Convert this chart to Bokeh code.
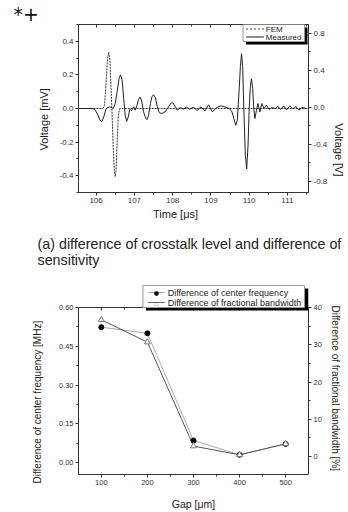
import math
from bokeh.plotting import figure
from bokeh.models import (Range1d, LinearAxis, FixedTicker, PrintfTickFormatter,
                          Label, BoxAnnotation, Arrow, Title, Span)
from bokeh.layouts import column
from bokeh.embed import file_html
from bokeh.resources import INLINE

FONT = "Liberation Sans"
INK = "#333333"
TXT = "#222222"

# ---------------- data: chart (a) waveforms ----------------
fem_t = [105.54, 106.18, 106.22, 106.26, 106.30, 106.33, 106.36, 106.39, 106.42,
         106.45, 106.48, 106.50, 106.52, 106.55, 106.58, 106.62, 111.55]
fem_v = [0.0, 0.0, 0.02, 0.15, 0.30, 0.335, 0.29, 0.12, -0.05,
         -0.25, -0.38, -0.405, -0.37, -0.20, -0.04, 0.0, 0.0]

meas_t = [105.54, 105.92, 105.98, 106.05, 106.10, 106.15, 106.20, 106.26, 106.35, 106.45,
          106.50, 106.55, 106.60, 106.64, 106.68, 106.72, 106.76, 106.80, 106.84, 106.88,
          106.93, 106.98, 107.02, 107.07, 107.11, 107.15, 107.19, 107.24, 107.29, 107.33,
          107.37, 107.42, 107.46, 107.50, 107.55, 107.60, 107.65, 107.72, 107.80, 107.88,
          107.95, 108.00, 108.06, 108.12, 108.20, 108.28, 108.36, 108.45, 108.54, 108.64,
          108.74, 108.84, 108.94, 109.04, 109.14, 109.26, 109.38, 109.48, 109.55, 109.60,
          109.65, 109.69, 109.73, 109.77, 109.80, 109.83, 109.86, 109.90, 109.935, 109.97,
          110.00, 110.03, 110.06, 110.09, 110.12, 110.15, 110.19, 110.23, 110.28, 110.33,
          110.39, 110.45, 110.52, 110.60, 110.68, 110.75, 110.82, 110.90, 110.98, 111.06,
          111.14, 111.22, 111.30, 111.38, 111.5]
meas_v = [0.0, 0.0, -0.01, -0.04, -0.07, -0.078, -0.05, 0.0, 0.01, 0.0,
          0.03, 0.10, 0.18, 0.20, 0.17, 0.06, -0.04, -0.076, -0.05, -0.005,
          -0.012, 0.01, -0.01, 0.02, 0.055, 0.068, 0.045, -0.02, -0.055, -0.066,
          -0.04, 0.03, 0.07, 0.082, 0.065, 0.01, -0.025, -0.03, -0.02, 0.005,
          0.03, 0.035, 0.015, -0.01, 0.006, -0.004, 0.008, -0.004, 0.008, -0.012,
          0.01, -0.015, 0.022, -0.02, 0.004, 0.016, 0.008, 0.0, -0.02, -0.06,
          -0.10, -0.07, 0.08, 0.25, 0.326, 0.25, 0.0, -0.28, -0.36, -0.22,
          0.0, 0.13, 0.177, 0.12, 0.0, -0.06, -0.01, 0.03, -0.02, 0.03,
          0.0, 0.02, -0.005, 0.005, 0.0, 0.012, -0.006, 0.015, -0.008, 0.015,
          -0.002, 0.012, -0.01, 0.006, 0.0]

x1_ticks = [106, 107, 108, 109, 110, 111]
x1_minor = [105.5, 106.5, 107.5, 108.5, 109.5, 110.5, 111.5]
y1_ticks = [-0.4, -0.2, 0.0, 0.2, 0.4]
y1_minor = [-0.5, -0.3, -0.1, 0.1, 0.3, 0.5]
y1r_ticks = [-0.8, -0.4, 0.0, 0.4, 0.8]
y1r_minor = [-0.6, -0.2, 0.2, 0.6]

# ---------------- data: chart (b) ----------------
gap = [100, 200, 300, 400, 500]
center_freq = [0.524, 0.50, 0.085, 0.030, 0.072]
frac_bw = [36.7, 30.7, 2.8, 0.45, 3.4]

x2_ticks = [100, 200, 300, 400, 500]
x2_minor = [50, 150, 250, 350, 450, 550]
y2_ticks = [0.0, 0.15, 0.30, 0.45, 0.60]
y2_minor = [0.075, 0.225, 0.375, 0.525]
y2r_ticks = [0, 10, 20, 30, 40]
y2r_minor = [-5, 5, 15, 25, 35]

# ---------------- layout (page pixels, body margin is 0) ----------------
W = 348
H1 = 282
H2 = 512 - H1
FL, FR = 78, 310                      # common frame left/right
T1, B1 = 24, 192                      # frame (a)
T2, B2 = H1, 474                      # frame (b), extends above the 0.60 line
X1R = (105.54, 111.55)
Y1R = (-0.5, 0.5)
Y1RR = (-0.919, 0.897)
X2R = (50.5, 549.5)
# chart (b) axis anchors: 0.60 drawn at 307 px, 0.00 at 462 px; right 40 at 307, 0 at 456
Y2_TOP, Y2R_TOP = 0.60, 40
_s_l = 0.60 / (462 - 307)
_s_r = 40.0 / (456 - 307)
Y2R = (-(B2 - 462) * _s_l, 0.60 + (307 - T2) * _s_l)
Y2RR = (-(B2 - 456) * _s_r, 40 + (307 - T2) * _s_r)


def mapper(T, B, xr, yr):
    def dx(px):
        return xr[0] + (px - FL) / (FR - FL) * (xr[1] - xr[0])

    def dy(py):
        return yr[0] + (B - py) / (B - T) * (yr[1] - yr[0])
    return dx, dy


d1x, d1y = mapper(T1, B1, X1R, Y1R)
d2x, d2y = mapper(T2, B2, X2R, Y2R)


def style_axis(ax, fs, fmt=None, labels=True, inward=False, ticks=None, minor=None):
    ax.axis_line_color = INK
    ax.major_tick_line_color = INK
    ax.minor_tick_line_color = INK
    if inward:
        ax.major_tick_in, ax.major_tick_out = 3, 0
        ax.minor_tick_in, ax.minor_tick_out = 2, 0
    else:
        ax.major_tick_in, ax.major_tick_out = 0, 3
        ax.minor_tick_in, ax.minor_tick_out = 0, 2
    ax.ticker = FixedTicker(ticks=ticks, minor_ticks=minor)
    if fmt:
        ax.formatter = PrintfTickFormatter(format=fmt)
    ax.major_label_text_font = FONT
    ax.major_label_standoff = 2
    ax.axis_label_text_font = FONT
    ax.axis_label_text_font_style = "normal"
    ax.axis_label_text_color = TXT
    if labels:
        ax.major_label_text_font_size = fs
        ax.major_label_text_color = INK
    else:
        ax.major_label_text_font_size = "0px"
        ax.major_label_text_color = None
        ax.major_label_standoff = 0


def title(text, size, align, offset, standoff, font=FONT):
    return Title(text=text, align=align, offset=offset, standoff=standoff,
                 text_font=font, text_font_size=size, text_font_style="normal",
                 text_color=TXT)


def lab(p, x, y, text, size, align="left", color=TXT, font=FONT):
    p.add_layout(Label(x=x, y=y, text=text, text_font=font, text_font_size=size,
                       text_color=color, text_align=align, text_baseline="middle"))


def box(p, l, r, t, b, fill, line):
    p.add_layout(BoxAnnotation(left=l, right=r, top=t, bottom=b, fill_color=fill,
                               fill_alpha=1.0, line_color=line if line else "white",
                               line_width=1, line_alpha=1.0 if line else 0.0))


def seg(p, x0, y0, x1, y1, color, width=1.0, dash="solid"):
    p.add_layout(Arrow(end=None, x_start=x0, y_start=y0, x_end=x1, y_end=y1,
                       line_color=color, line_width=width, line_dash=dash))


def base_fig(h, xr, yr, top, bottom):
    f = figure(width=W, height=h, x_range=Range1d(*xr), y_range=Range1d(*yr),
               output_backend="svg", toolbar_location=None,
               min_border_left=FL, min_border_right=W - FR,
               min_border_top=top, min_border_bottom=bottom)
    f.grid.visible = False
    f.background_fill_color = "white"
    f.border_fill_color = "white"
    return f


# ================= figure (a) =================
p1 = base_fig(H1, X1R, Y1R, 0, H1 - B1)
p1.outline_line_color = INK
p1.extra_y_ranges = {"r": Range1d(*Y1RR)}
p1.title.text = "*+"
p1.title.text_font = "DejaVu Sans"
p1.title.text_font_size = "18.9px"
p1.title.text_font_style = "normal"
p1.title.text_color = "#111111"
p1.title.align = "left"
p1.title.offset = 13 - FL
p1.title.standoff = 0

style_axis(p1.xaxis[0], "8px", "%d", ticks=x1_ticks, minor=x1_minor)
style_axis(p1.yaxis[0], "8px", "%.1f", ticks=y1_ticks, minor=y1_minor)
top1 = LinearAxis()
style_axis(top1, "8px", labels=False, inward=True, ticks=x1_ticks, minor=x1_minor)
p1.add_layout(top1, "above")
right1 = LinearAxis(y_range_name="r")
style_axis(right1, "8px", "%.1f", ticks=y1r_ticks, minor=y1r_minor)
p1.add_layout(right1, "right")
p1.add_layout(title("Voltage [mV]", "11px", "left", B1 - 150, 14), "left")
p1.add_layout(title("Voltage [V]", "11px", "right", 16, 4), "right")
p1.add_layout(title("Time [\u03bcs]", "11px", "left", 152.5 - FL, 0), "below")
p1.add_layout(title("(a) difference of crosstalk level and difference of\nsensitivity",
                    "14.3px", "left", 37 - FL, 29), "below")

p1.line(fem_t, fem_v, line_color="#333333", line_width=1.0, line_dash="2 1")
p1.line(meas_t, meas_v, line_color="#222222", line_width=1.0)

# legend (a) with drop shadow
box(p1, d1x(247), d1x(309), d1y(27), d1y(44), "black", None)
box(p1, d1x(244), d1x(306), d1y(24), d1y(41), "white", "#999999")
seg(p1, d1x(247), d1y(28.5), d1x(265), d1y(28.5), "#444444", 1.0, "2 2")
lab(p1, d1x(267), d1y(28.5), "FEM", "8px")
seg(p1, d1x(247), d1y(36.5), d1x(265), d1y(36.5), "#666666", 1.5)
lab(p1, d1x(267), d1y(36.5), "Measured", "8px")

# ================= figure (b) =================
p2 = base_fig(H2, X2R, Y2R, 0, H1 + H2 - B2)
p2.outline_line_color = None
p2.extra_y_ranges = {"r": Range1d(*Y2RR)}
style_axis(p2.xaxis[0], "7.5px", "%d", ticks=x2_ticks, minor=x2_minor)
p2.xaxis[0].axis_label = "Gap [\u03bcm]"
p2.xaxis[0].axis_label_text_font_size = "10.5px"
p2.xaxis[0].axis_label_standoff = 10
style_axis(p2.yaxis[0], "7.5px", "%.2f", ticks=y2_ticks, minor=y2_minor)
p2.yaxis[0].bounds = (Y2R[0], Y2_TOP)
right2 = LinearAxis(y_range_name="r", bounds=(Y2RR[0], Y2R_TOP))
style_axis(right2, "7.5px", "%d", ticks=y2r_ticks, minor=y2r_minor)
p2.add_layout(right2, "right")
p2.add_layout(title("Difference of center frequency [MHz]", "10px", "left",
                    B2 - 483, 25), "left")
p2.add_layout(title("Difference of fractional bandwidth [%]", "10px", "left",
                    305 - T2, 10), "right")

# top edge of frame (b) at 0.60 with inward ticks
p2.add_layout(Span(location=Y2_TOP, dimension="width", line_color=INK, line_width=1))
tick_len = (Y2R[1] - Y2R[0]) / (B2 - T2)
p2.segment(x0=x2_ticks, y0=[Y2_TOP] * len(x2_ticks), x1=x2_ticks,
           y1=[Y2_TOP - 3 * tick_len] * len(x2_ticks), line_color=INK, line_width=1)
p2.segment(x0=x2_minor, y0=[Y2_TOP] * len(x2_minor), x1=x2_minor,
           y1=[Y2_TOP - 2 * tick_len] * len(x2_minor), line_color=INK, line_width=1)

p2.line(gap, center_freq, line_color="#aaaaaa", line_width=1.0)
p2.line(gap, frac_bw, line_color="#555555", line_width=1.0, y_range_name="r")
p2.scatter(gap, center_freq, marker="circle", size=5, fill_color="black",
           line_color="black")
p2.scatter(gap, frac_bw, marker="triangle", size=6, fill_color="white",
           line_color="#777777", y_range_name="r")

# legend (b) with drop shadow
box(p2, d2x(146), d2x(310), d2y(288), d2y(310), "black", None)
box(p2, d2x(143), d2x(306), d2y(285), d2y(307), "white", "#999999")
seg(p2, d2x(148), d2y(292), d2x(165), d2y(292), "#aaaaaa", 1.0)
lab(p2, d2x(156.5), d2y(292), "\u25cf", "6px", align="center", color="black",
    font="DejaVu Sans")
lab(p2, d2x(168), d2y(292), "Difference of center frequency", "9px")
seg(p2, d2x(148), d2y(302), d2x(165), d2y(302), "#666666", 1.0)
lab(p2, d2x(156.5), d2y(302), "\u25b3", "6px", align="center", color="#777777",
    font="DejaVu Sans")
lab(p2, d2x(168), d2y(302), "Difference of fractional bandwidth", "9px")

layout = column(p1, p2)
open("out.html", "w").write(file_html(layout, INLINE))
